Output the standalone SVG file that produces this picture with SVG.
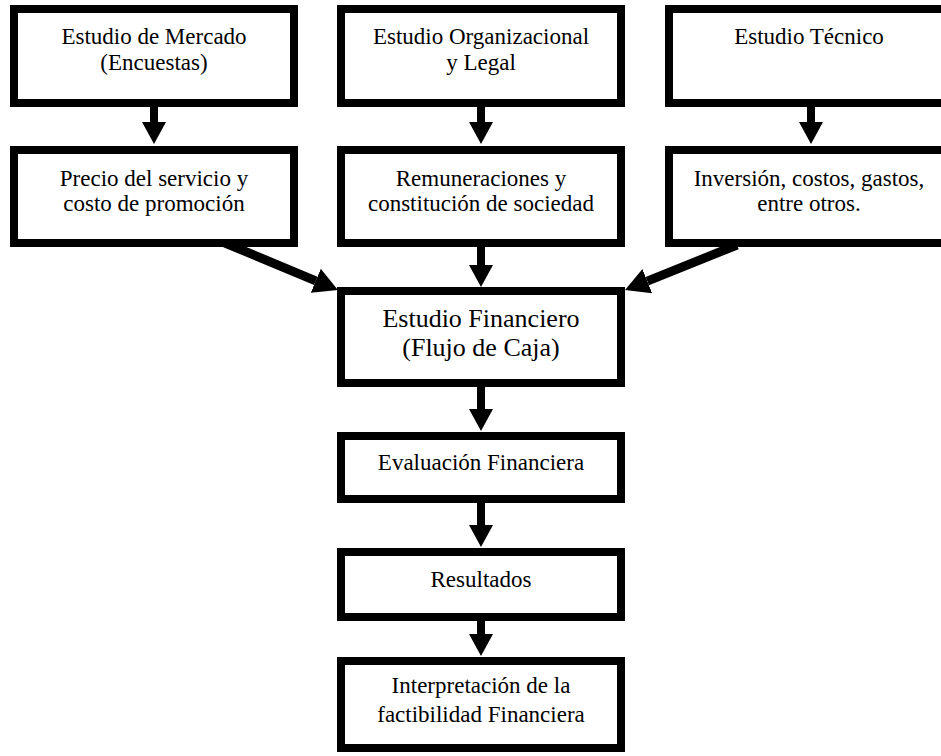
<svg xmlns="http://www.w3.org/2000/svg" width="941" height="756" viewBox="0 0 941 756">
<style>
.box{fill:#fff;stroke:#000;stroke-width:8}
.t{font-family:"Liberation Serif","Times New Roman",serif;font-size:23px;fill:#000;text-anchor:middle}
.tb{font-size:26px}
.c{stroke:#000;stroke-width:8;fill:none}
.d{stroke:#000;stroke-width:9;fill:none}
</style>
<defs>
<marker id="ah" viewBox="0 0 22 24" refX="0" refY="12" markerUnits="userSpaceOnUse" markerWidth="22" markerHeight="24" orient="auto">
<path d="M0,0 L22,12 L0,24 Z" fill="#000"/>
</marker>
<marker id="ahd" viewBox="0 0 24 26" refX="0" refY="13" markerUnits="userSpaceOnUse" markerWidth="24" markerHeight="26" orient="auto">
<path d="M0,0 L24,13 L0,26 Z" fill="#000"/>
</marker>
</defs>
<rect width="941" height="756" fill="#fff"/>
<g id="connectors">
<line class="c" x1="154" y1="107" x2="154" y2="122" marker-end="url(#ah)"/>
<line class="c" x1="481" y1="107" x2="481" y2="122" marker-end="url(#ah)"/>
<line class="c" x1="811" y1="107" x2="811" y2="122" marker-end="url(#ah)"/>
<line class="c" x1="481" y1="247" x2="481" y2="265" marker-end="url(#ah)"/>
<line class="d" x1="225" y1="243" x2="315.8" y2="280.8" marker-end="url(#ahd)"/>
<line class="d" x1="737" y1="245" x2="647.3" y2="281.1" marker-end="url(#ahd)"/>
<line class="c" x1="481" y1="387" x2="481" y2="409" marker-end="url(#ah)"/>
<line class="c" x1="481" y1="503" x2="481" y2="525" marker-end="url(#ah)"/>
<line class="c" x1="481" y1="621" x2="481" y2="634" marker-end="url(#ah)"/>
</g>
<g id="mercado">
<rect class="box" x="14" y="9" width="280" height="94"/>
<text class="t" x="154" y="44">Estudio de Mercado</text>
<text class="t" x="154" y="70">(Encuestas)</text>
</g>
<g id="organizacional">
<rect class="box" x="341" y="9" width="280" height="94"/>
<text class="t" x="481" y="44">Estudio Organizacional</text>
<text class="t" x="481" y="70">y Legal</text>
</g>
<g id="tecnico">
<rect class="box" x="669" y="9" width="280" height="94"/>
<text class="t" x="809" y="44">Estudio Técnico</text>
</g>
<g id="precio">
<rect class="box" x="14" y="150" width="280" height="93"/>
<text class="t" x="154" y="186">Precio del servicio y</text>
<text class="t" x="154" y="211">costo de promoción</text>
</g>
<g id="remuneraciones">
<rect class="box" x="341" y="150" width="280" height="93"/>
<text class="t" x="481" y="186">Remuneraciones y</text>
<text class="t" x="481" y="211">constitución de sociedad</text>
</g>
<g id="inversion">
<rect class="box" x="669" y="150" width="280" height="93"/>
<text class="t" x="809" y="186">Inversión, costos, gastos,</text>
<text class="t" x="809" y="211">entre otros.</text>
</g>
<g id="financiero">
<rect class="box" x="341" y="291" width="280" height="92"/>
<text class="t tb" x="481" y="327">Estudio Financiero</text>
<text class="t tb" x="481" y="356">(Flujo de Caja)</text>
</g>
<g id="evaluacion">
<rect class="box" x="341" y="436" width="280" height="63"/>
<text class="t" x="481" y="470">Evaluación Financiera</text>
</g>
<g id="resultados">
<rect class="box" x="341" y="552" width="280" height="65"/>
<text class="t" x="481" y="587">Resultados</text>
</g>
<g id="interpretacion">
<rect class="box" x="341" y="661" width="280" height="87"/>
<text class="t" x="481" y="693">Interpretación de la</text>
<text class="t" x="481" y="722">factibilidad Financiera</text>
</g>
</svg>
